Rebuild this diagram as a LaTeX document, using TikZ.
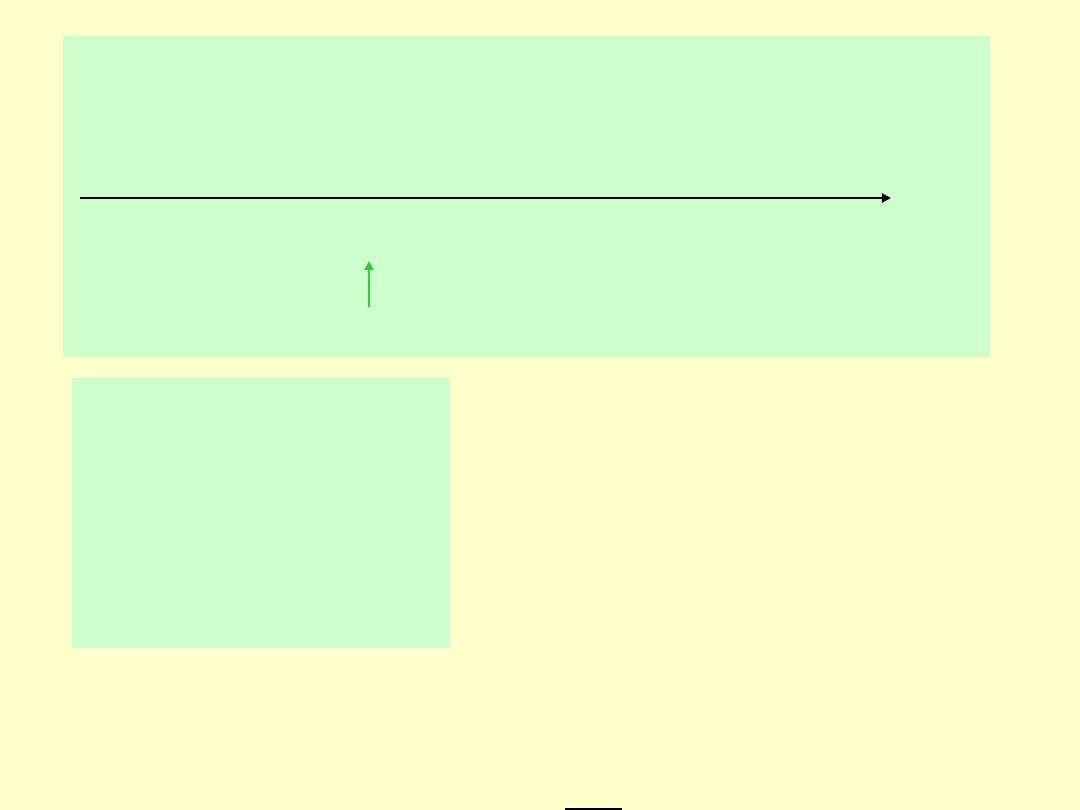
\documentclass[tikz,border=0pt]{standalone}
\usetikzlibrary{arrows.meta}

\begin{document}
\begin{tikzpicture}[x=0.1mm,y=-0.1mm,>={Triangle[length=0.9mm,width=0.9mm]},line width=0.55pt]
          \definecolor{slideyellow}{HTML}{FFFFCC}
          \definecolor{panelgreen}{HTML}{CCFFCC}
          \definecolor{arrowgreen}{HTML}{33CC33}
          \tikzstyle{panel}=[fill=panelgreen,draw=none]
          \fill[slideyellow] (0,0) rectangle (1080,810);
          \useasboundingbox (0,0) rectangle (1080,810);
          \path[panel] (63,36) rectangle (990,357);
          \path[panel] (72,378) rectangle (450,648);
          \coordinate (T0) at (80,198);
          \coordinate (T1) at (891,198);
          \coordinate (G0) at (369,307);
          \coordinate (G1) at (369,261);
          \draw[->,black] (T0) -- (T1);
          \draw[->,arrowgreen] (G0) -- (G1);
          \fill[black] (565,807.5) rectangle (622,810);
        \end{tikzpicture}
\end{document}
